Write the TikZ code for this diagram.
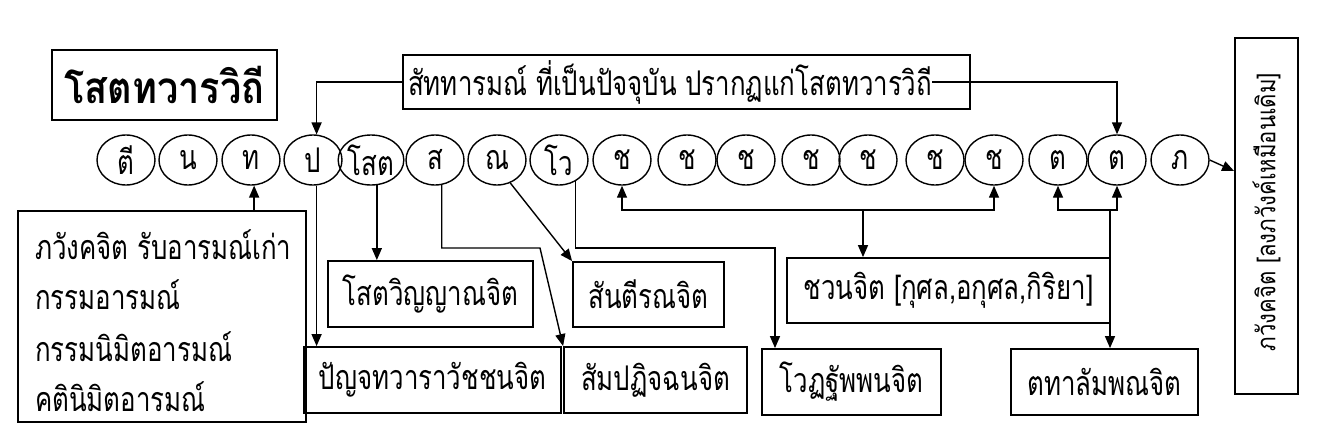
\documentclass[tikz,border=0pt]{standalone}
\usepackage{fontspec}
\usetikzlibrary{arrows.meta,shapes.geometric,calc}
\newfontfamily\thai[Script=Thai,FakeStretch=0.76]{Loma}
\newfontfamily\thait[Script=Thai,FakeStretch=0.86]{Loma}
\newfontfamily\thaiv[Script=Thai,FakeStretch=0.85]{Loma}
\tikzset{
  box/.style={draw,line width=1.8pt,inner sep=0pt,font=\thai\fontsize{34}{36}\selectfont},
  cell/.style={draw,ellipse,line width=1.4pt,minimum width=58pt,minimum height=50pt,inner sep=0pt,font=\thai\fontsize{34}{36}\selectfont},
  txt/.style={inner sep=0pt,font=\thai\fontsize{34}{36}\selectfont},
  conn/.style={line width=1.4pt},
  arr/.style={conn,-{Triangle[width=10pt,length=12pt]}},
  arrb/.style={conn,{Triangle[width=10pt,length=12pt]}-{Triangle[width=10pt,length=12pt]}}
}
\begin{document}
\begin{tikzpicture}[x=1pt,y=-1pt]
\useasboundingbox[fill=white] (0,0) rectangle (1324,439);
% title
\node[box,minimum width=225pt,minimum height=70pt,font=\thait\bfseries\fontsize{44}{46}\selectfont] (title) at (164.5,85) {โสตทวารวิถี};
% banner
\node[box,minimum width=567pt,minimum height=54pt] (banner) at (686.5,82) {};
\node[txt,anchor=west] (bt) at (408,82) {สัททารมณ์ ที่เป็นปัจจุบัน ปรากฏแก่โสตทวารวิถี};
% vertical box
\node[box,minimum width=63pt,minimum height=356pt] (vbox) at (1266.5,216) {};
\node[inner sep=0pt,rotate=90,font=\thaiv\fontsize{26}{28}\selectfont] (vt) at (1266.5,212) {ภวังคจิต [ลงภวังค์เหมือนเดิม]};
% circles
\foreach \i/\x/\t in {1/126/ตี,2/188/น,3/251/ท,4/313/ป,5/371/โสต,6/435/ส,7/497/ณ,8/559/โว,9/622/ช,10/687/ช,11/746/ช,12/811/ช,13/868/ช,14/935/ช,15/994/ช,16/1058/ต,17/1117/ต,18/1180/ภ}
  \node[cell] (c\i) at (\x,160) {\t};
% left box
\node[box,minimum width=288pt,minimum height=211pt] (lbox) at (162,316.5) {};
\node[txt,anchor=west] (l1) at (35,245) {ภวังคจิต รับอารมณ์เก่า};
\node[txt,anchor=west] (l2) at (35,295) {กรรมอารมณ์};
\node[txt,anchor=west] (l3) at (35,347) {กรรมนิมิตอารมณ์};
\node[txt,anchor=west] (l4) at (35,397) {คตินิมิตอารมณ์};
% lower boxes
\node[box,minimum width=257pt,minimum height=66pt] (b1) at (432.5,380) {ปัญจทวาราวัชชนจิต};
\node[box,minimum width=205pt,minimum height=66pt] (b2) at (430.5,294) {โสตวิญญาณจิต};
\node[box,minimum width=183pt,minimum height=66pt] (b3) at (655.5,380) {สัมปฏิจฉนจิต};
\node[box,minimum width=151pt,minimum height=65pt] (b4) at (648.5,294.5) {สันตีรณจิต};
\node[box,minimum width=179pt,minimum height=66pt] (b5) at (851.5,382) {โวฏฐัพพนจิต};
\node[box,minimum width=323pt,minimum height=65pt] (b6) at (948.5,290.5) {ชวนจิต [กุศล,อกุศล,กิริยา]};
\node[box,minimum width=187pt,minimum height=66pt] (b7) at (1104.5,382) {ตทาลัมพณจิต};
% bend points
\coordinate (k1) at (540,248);
\coordinate (k2) at (775,248);
\coordinate (k3) at (863,210);
\coordinate (k4) at (1110,210);
% connectors
\draw[arr] (banner.west) -| (c4.82);
\draw[arr] (bt.east) -| (c17.north);
\draw[arr] (lbox.north -| c3.-83) -- (c3.-83);
\draw[arr] (c4.-82) -- (c4.-82 |- b1.north);
\draw[arr] (c5.-77) -- (c5.-77 |- b2.north);
\draw[arr] (c6.-75) |- (k1) -- (b3.north west);
\draw[arr] (c7.-60) -- (b4.north west);
\draw[arr] (c8.-52) |- (k2) -- (k2 |- b5.north);
\draw[arrb] (c9.south) |- (k3) -| (c15.south);
\draw[arr] (k3) -- (k3 |- b6.north);
\draw[arrb] (c16.south) |- (k4) -| (c17.south);
\draw[arr] (k4) -- (k4 |- b7.north);
\draw[arr] (c18.east) -- ([yshift=45pt]vbox.west);
\end{tikzpicture}
\end{document}
